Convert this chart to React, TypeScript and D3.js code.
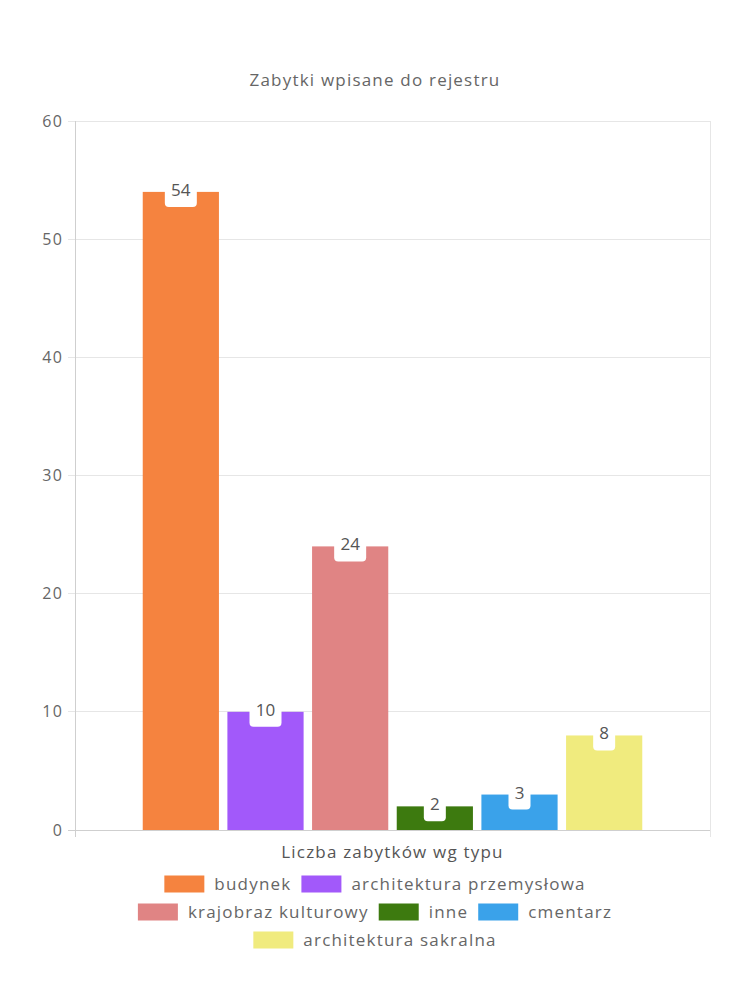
import React, { useEffect, useRef } from "react";
import * as d3 from "d3";

const categories = ["budynek", "architektura przemysłowa", "krajobraz kulturowy", "inne", "cmentarz", "architektura sakralna"];
const values = [54, 10, 24, 2, 3, 8];
const colors = ["#f5833f", "#a259fa", "#e08484", "#3d7a0f", "#3aa2ea", "#f0eb7e"];
const yTicks = [0, 10, 20, 30, 40, 50, 60];
const legendRows = [[0, 1], [2, 3, 4], [5]];
const title = "Zabytki wpisane do rejestru";
const xTitle = "Liczba zabytków wg typu";

const FONT = "'Open Sans', 'DejaVu Sans', sans-serif";
const LS = "1.2px";

export default function App() {
  const ref = useRef<SVGSVGElement | null>(null);
  useEffect(() => {
    const svg = d3.select(ref.current);
    svg.selectAll("*").remove();
    const W = 750, H = 1000;
    const left = 75, right = 710, top = 121, bottom = 830;
    const y = d3.scaleLinear().domain([0, 60]).range([bottom, top]);
    const outer = d3.scaleBand().domain(["g"]).range([left, right]).paddingInner(0.2).paddingOuter(0.1);
    const inner = d3.scaleBand<number>().domain(values.map((_, i) => i))
      .range([outer("g")!, outer("g")! + outer.bandwidth()]).paddingInner(0.1).paddingOuter(0.05);
    const g = svg.append("g");

    // grid
    g.selectAll("line.grid").data(yTicks).enter().append("line")
      .attr("x1", left - 7).attr("x2", right).attr("y1", (d) => y(d)).attr("y2", (d) => y(d))
      .attr("stroke", (d) => (d === 0 ? "#cfcfcf" : "#e6e6e6")).attr("stroke-width", 1).attr("shape-rendering", "crispEdges");
    g.append("line").attr("x1", left).attr("x2", left).attr("y1", top).attr("y2", bottom + 7).attr("stroke", "#cfcfcf").attr("shape-rendering", "crispEdges");
    g.append("line").attr("x1", right).attr("x2", right).attr("y1", top).attr("y2", bottom + 7).attr("stroke", "#e6e6e6").attr("shape-rendering", "crispEdges");

    g.selectAll("text.yt").data(yTicks).enter().append("text")
      .attr("x", 63).attr("y", (d) => y(d)).attr("dy", "0.35em").attr("text-anchor", "end")
      .attr("font-family", FONT).attr("font-size", 16).attr("letter-spacing", LS).attr("fill", "#666").text((d) => d);

    // bars
    g.selectAll("rect.bar").data(values).enter().append("rect")
      .attr("x", (_, i) => inner(i)!).attr("width", inner.bandwidth())
      .attr("y", (d) => y(d)).attr("height", (d) => bottom - y(d)).attr("fill", (_, i) => colors[i]);

    // labels
    values.forEach((v, i) => {
      const cx = inner(i)! + inner.bandwidth() / 2;
      const ty = y(v);
      const txt = String(v);
      const w = txt.length * 10 + 12;
      g.append("rect").attr("x", cx - w / 2).attr("y", ty - 11).attr("width", w).attr("height", 26)
        .attr("rx", 4).attr("fill", "#fff");
      g.append("text").attr("x", cx).attr("y", ty - 2).attr("dy", "0.35em").attr("text-anchor", "middle")
        .attr("font-family", FONT).attr("font-size", 17).attr("fill", "#555").text(txt);
    });

    // titles
    svg.append("text").attr("x", W / 2).attr("y", 80).attr("dy", "0.35em").attr("text-anchor", "middle")
      .attr("font-family", FONT).attr("font-size", 17).attr("letter-spacing", LS).attr("fill", "#666").text(title);
    svg.append("text").attr("x", (left + right) / 2).attr("y", 852).attr("dy", "0.35em").attr("text-anchor", "middle")
      .attr("font-family", FONT).attr("font-size", 17).attr("letter-spacing", LS).attr("fill", "#555").text(xTitle);

    // legend
    const rowY = [884, 912, 940];
    legendRows.forEach((row, r) => {
      const lg = svg.append("g");
      let x = 0;
      row.forEach((idx, k) => {
        lg.append("rect").attr("x", x).attr("y", rowY[r] - 8.5).attr("width", 40).attr("height", 17).attr("fill", colors[idx]);
        const t = lg.append("text").attr("x", x + 50).attr("y", rowY[r]).attr("dy", "0.35em")
          .attr("font-family", FONT).attr("font-size", 17).attr("letter-spacing", LS).attr("fill", "#666").text(categories[idx]);
        const tw = (t.node() as SVGTextElement).getComputedTextLength();
        x += 50 + tw + (k < row.length - 1 ? 10 : 0);
      });
      lg.attr("transform", `translate(${(W - x) / 2},0)`);
    });
    svg.attr("width", W).attr("height", H);
  }, []);
  return <svg ref={ref} width={750} height={1000} style={{ display: "block", position: "absolute", left: 0, top: 0 }} />;
}
